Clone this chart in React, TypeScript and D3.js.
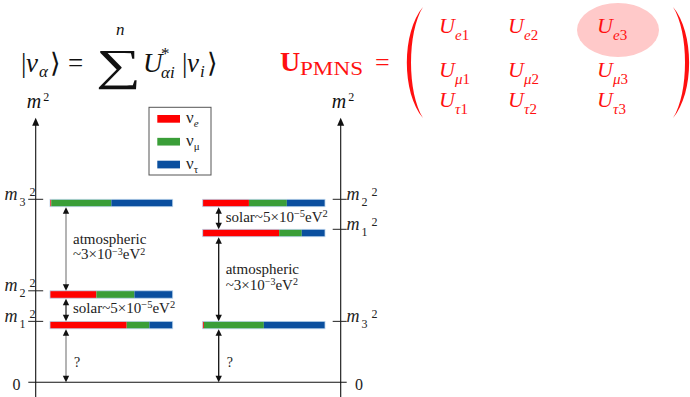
import React from "react";
import * as d3 from "d3";

// ---------- data ----------
const flavors = ["e", "μ", "τ"];
const flavorColors = ["#ff0000", "#3a9e38", "#0a4f9f"];
const massStates = ["1", "2", "3"];
// flavour content of each mass state (ν1, ν2, ν3): [e, μ, τ]
const flavorContent = [
  [0.625, 0.185, 0.19],
  [0.378, 0.31, 0.312],
  [0.01, 0.49, 0.5],
];
// schematic m² levels of (m1², m2², m3²)
const normalLevels = [3.33, 5.0, 10];
const invertedLevels = [8.36, 10, 3.33];
// gap labels from bottom (zero → lowest → middle → highest)
const normalGaps = ["?", "solar", "atmospheric"];
const invertedGaps = ["?", "atmospheric", "solar"];
const axisTop = 14.46;
const matrixRows = ["e", "μ", "τ"];
const matrixCols = ["1", "2", "3"];

const SERIF = '"Liberation Serif", "Times New Roman", Times, "DejaVu Serif", serif';
const ff = { fontFamily: SERIF } as React.CSSProperties;

const y = d3.scaleLinear().domain([0, 10]).range([382.3, 199.3]);
const barH = 7.4;

type Panel = {
  levels: number[];
  gaps: string[];
  bar: [number, number];
  axisX: number;
  arrowX: number;
  arrowColors: Record<string, string>;
  side: "left" | "right";
};

const panels: Panel[] = [
  {
    levels: normalLevels,
    gaps: normalGaps,
    bar: [50, 172.7],
    axisX: 35.7,
    arrowX: 66,
    arrowColors: { "?": "#8c8c8c", solar: "#333", atmospheric: "#8c8c8c" },
    side: "left",
  },
  {
    levels: invertedLevels,
    gaps: invertedGaps,
    bar: [202.7, 325],
    axisX: 340.7,
    arrowX: 218.7,
    arrowColors: { "?": "#111", solar: "#111", atmospheric: "#111" },
    side: "right",
  },
];

function Arrow({ x, y1, y2, color }: { x: number; y1: number; y2: number; color: string }) {
  const hl = 6.5, hw = 3.2;
  return (
    <g>
      <line x1={x} x2={x} y1={y1 + hl - 1} y2={y2 - hl + 1} stroke={color} strokeWidth={1.3} />
      <path d={`M${x},${y1} L${x - hw},${y1 + hl} L${x + hw},${y1 + hl} Z`} fill="#111" />
      <path d={`M${x},${y2} L${x - hw},${y2 - hl} L${x + hw},${y2 - hl} Z`} fill="#111" />
    </g>
  );
}

function GapLabel({ kind, x, top, bottom }: { kind: string; x: number; top: number; bottom: number }) {
  const mid = (top + bottom) / 2;
  const fs = 15;
  if (kind === "?") {
    return (
      <text x={x + 1} y={mid + 11} style={ff} fontSize={14} fill="#222">?</text>
    );
  }
  if (kind === "solar") {
    return (
      <text x={x} y={mid + 3.5} style={ff} fontSize={fs} fill="#222">
        solar~5×10<tspan dy={-5} fontSize={10.5}>−5</tspan>
        <tspan dy={5}>eV</tspan>
        <tspan dy={-5} fontSize={10.5}>2</tspan>
      </text>
    );
  }
  return (
    <g style={ff} fontSize={fs} fill="#222">
      <text x={x} y={mid - 5}>atmospheric</text>
      <text x={x} y={mid + 10.5}>
        ~3×10<tspan dy={-4.5} fontSize={10}>−3</tspan>
        <tspan dy={4.5}>eV</tspan>
        <tspan dy={-4.5} fontSize={10}>2</tspan>
      </text>
    </g>
  );
}

function MassLabel({ x, yy, idx }: { x: number; yy: number; idx: number }) {
  return (
    <g style={ff} fill="#222">
      <text x={x} y={yy} fontSize={18} fontStyle="italic">m</text>
      <text x={x + 15} y={yy + 6} fontSize={12}>{massStates[idx]}</text>
      <text x={x + 25} y={yy - 4} fontSize={12}>2</text>
    </g>
  );
}

function PanelView({ p }: { p: Panel }) {
  const xb = d3.scaleLinear().domain([0, 1]).range(p.bar);
  const order = d3.range(3).sort((a, b) => p.levels[a] - p.levels[b]);
  const stack = flavorContent.map((fr) => {
    const cum = d3.cumsum(fr);
    return fr.map((f, i) => ({ x0: cum[i] - f, x1: cum[i] }));
  });
  return (
    <g>
      <line x1={p.axisX} x2={p.axisX} y1={y(axisTop) + 5} y2={397} stroke="#111" strokeWidth={1.1} />
      <path
        d={`M${p.axisX},${y(axisTop)} L${p.axisX - 3.5},${y(axisTop) + 8} L${p.axisX + 3.5},${y(axisTop) + 8} Z`}
        fill="#111"
      />
      <g style={ff} fill="#111">
        <text x={p.axisX - 9} y={108} fontSize={20} fontStyle="italic">m</text>
        <text x={p.axisX + 7.5} y={101} fontSize={12}>2</text>
      </g>
      {p.levels.map((lv, i) => (
        <g key={"t" + i}>
          <line
            x1={p.side === "left" ? p.axisX - 7.5 : p.axisX - 8}
            x2={p.side === "left" ? p.axisX + 7.5 : p.axisX + 6}
            y1={y(lv)}
            y2={y(lv)}
            stroke="#222"
            strokeWidth={1}
          />
          <MassLabel x={p.side === "left" ? 4.5 : 346.5} yy={y(lv) + 0.5} idx={i} />
        </g>
      ))}
      {p.levels.map((lv, i) => (
        <g key={"b" + i}>
          {stack[i].map((s, k) => (
            <rect
              key={k}
              x={xb(s.x0)}
              width={xb(s.x1) - xb(s.x0)}
              y={y(lv)}
              height={barH}
              fill={flavorColors[k]}
            />
          ))}
          <rect
            x={xb(0)}
            width={xb(1) - xb(0)}
            y={y(lv)}
            height={barH}
            fill="none"
            stroke="#b9d3ec"
            strokeWidth={0.8}
          />
        </g>
      ))}
      {p.gaps.map((g, j) => {
        const lower = j === 0 ? null : order[j - 1];
        const upper = order[j];
        const top = y(p.levels[upper]) + barH;
        const bottom = lower === null ? y(0) : y(p.levels[lower]);
        return (
          <g key={"g" + j}>
            <Arrow x={p.arrowX} y1={top + 0.5} y2={bottom} color={p.arrowColors[g]} />
            <GapLabel kind={g} x={p.arrowX + 7} top={top} bottom={bottom} />
          </g>
        );
      })}
    </g>
  );
}

function Legend() {
  const x0 = 149, y0 = 107.3;
  return (
    <g>
      <rect x={x0} y={y0} width={62} height={67.7} fill="#fff" stroke="#555" strokeWidth={1} />
      {flavors.map((f, i) => (
        <g key={f}>
          <rect x={157.3} y={115 + i * 22.85} width={22.7} height={7.7} fill={flavorColors[i]} />
          <text x={186} y={123.3 + i * 22.85} style={ff} fontSize={17} fill="#222">
            ν
            <tspan dy={4} fontSize={11} fontStyle={f === "e" ? "italic" : "normal"}>{f}</tspan>
          </text>
        </g>
      ))}
    </g>
  );
}

function Formula() {
  const fs = 27;
  return (
    <g style={ff} fill="#111">
      <text x={21} y={72} fontSize={fs}>|</text>
      <text x={26} y={72} fontSize={fs} fontStyle="italic">ν</text>
      <text x={39} y={77} fontSize={17} fontStyle="italic">α</text>
      <text x={50} y={72} fontSize={fs} style={{ fontFamily: '"DejaVu Serif", serif' }} >⟩</text>
      <text x={68} y={72} fontSize={fs}>=</text>
      <text x={96} y={80} fontSize={44} textLength={45} lengthAdjust="spacingAndGlyphs">∑</text>
      <text x={116} y={35} fontSize={17} fontStyle="italic">n</text>
      <text x={143} y={72} fontSize={fs} fontStyle="italic">U</text>
      <text x={161} y={59} fontSize={17}>*</text>
      <text x={161} y={78} fontSize={17} fontStyle="italic">αi</text>
      <text x={182} y={72} fontSize={fs}>|</text>
      <text x={187} y={72} fontSize={fs} fontStyle="italic">ν</text>
      <text x={200} y={77} fontSize={17} fontStyle="italic">i</text>
      <text x={207} y={72} fontSize={fs} style={{ fontFamily: '"DejaVu Serif", serif' }}>⟩</text>
    </g>
  );
}

function Matrix() {
  const cols = [439, 508, 597];
  const rows = [33, 77, 107];
  const red = "#ff1010";
  const left = d3.path();
  left.moveTo(423, 7);
  left.bezierCurveTo(401.5, 32, 401.5, 93, 423, 118);
  left.bezierCurveTo(407, 93, 407, 32, 423, 7);
  left.closePath();
  const right = d3.path();
  right.moveTo(673, 7);
  right.bezierCurveTo(694.5, 32, 694.5, 93, 673, 118);
  right.bezierCurveTo(689, 93, 689, 32, 673, 7);
  right.closePath();
  return (
    <g style={ff} fill={red}>
      <text x={280} y={71} fontSize={28} fontWeight="bold">U</text>
      <text x={300} y={75} fontSize={19} textLength={63} lengthAdjust="spacingAndGlyphs">PMNS</text>
      <text x={375} y={71} fontSize={26}>=</text>
      <ellipse cx={618} cy={30} rx={41} ry={27} fill="#ffc9c9" />
      <path d={left.toString()} fill={red} />
      <path d={right.toString()} fill={red} />
      {matrixRows.map((r, i) =>
        matrixCols.map((c, j) => (
          <g key={r + c}>
            <text x={cols[j]} y={rows[i]} fontSize={22} fontStyle="italic">U</text>
            <text x={cols[j] + 16} y={rows[i] + 7} fontSize={15} fontStyle="italic">
              {r}
              <tspan fontStyle="normal">{c}</tspan>
            </text>
          </g>
        ))
      )}
    </g>
  );
}

export default function App() {
  return (
    <svg
      width={690}
      height={397}
      style={{ position: "absolute", left: 0, top: 0, background: "#fff" }}
    >
      <rect width={690} height={397} fill="#fff" />
      <line x1={28.3} x2={346.7} y1={y(0)} y2={y(0)} stroke="#111" strokeWidth={1.1} />
      <text x={12.5} y={390} style={ff} fontSize={16} fill="#222">0</text>
      <text x={355} y={390} style={ff} fontSize={16} fill="#222">0</text>
      {panels.map((p, i) => (
        <PanelView key={i} p={p} />
      ))}
      <Legend />
      <Formula />
      <Matrix />
    </svg>
  );
}
